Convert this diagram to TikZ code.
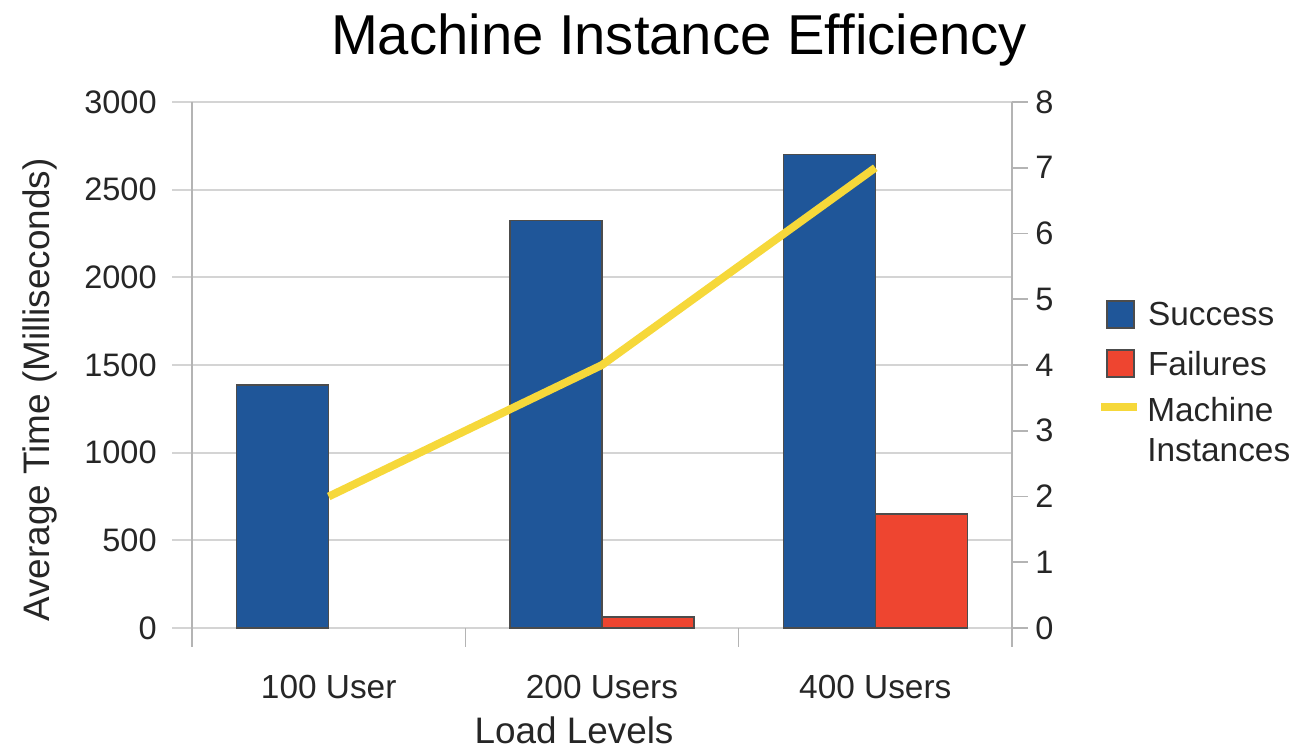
\documentclass[tikz,border=0pt]{standalone}
\usepackage{fontspec}
\setmainfont{Liberation Sans}
\usetikzlibrary{positioning}

\definecolor{succblue}{HTML}{1F5699}
\definecolor{failred}{HTML}{EE4530}
\definecolor{machyellow}{HTML}{F6D83A}
\definecolor{gridgray}{HTML}{D4D4D4}
\definecolor{axisgray}{HTML}{B4B4B4}
\definecolor{txtgray}{HTML}{262626}

\begin{document}
\begin{tikzpicture}[x=0.02cm,y=0.02cm,
  gridline/.style={gridgray,line width=1.1pt},
  axisline/.style={axisgray,line width=0.9pt},
  bar/.style={draw=black!70,line width=0.8pt},
  machline/.style={machyellow,line width=4.5pt,line join=round},
  ticklbl/.style={font=\fontsize{18.5}{20}\selectfont,text=txtgray,inner sep=0pt},
  catlbl/.style={font=\fontsize{19}{21}\selectfont,text=txtgray,inner sep=0pt,anchor=base},
  axislbl/.style={font=\fontsize{21}{23}\selectfont,text=txtgray,inner sep=0pt},
  legendbox/.style={bar,minimum size=0.54cm,inner sep=0pt},
  legendtxt/.style={font=\fontsize{19}{22.8}\selectfont,text=txtgray,inner sep=0pt,align=left}]
\useasboundingbox (0,0) rectangle (1296,752);

% title
\node[font=\fontsize{32}{34}\selectfont,text=black,inner sep=0pt,anchor=base] (title) at (679,697) {Machine Instance Efficiency};

% grid and left scale
\foreach \v in {0,500,...,3000}{
  \draw[gridline] (172,{124+\v*0.17533}) -- (1012,{124+\v*0.17533});
  \node[ticklbl,anchor=east] (l\v) at (157,{124+\v*0.17533}) {\v};
}
% right scale
\foreach \v in {0,...,8}{
  \draw[axisline] (1012,{124+\v*65.75}) -- (1028,{124+\v*65.75});
  \node[ticklbl,anchor=west] (r\v) at (1035,{124+\v*65.75}) {\v};
}

% axes
\draw[axisline] (192,650) -- (192,105);
\draw[axisline] (1012,650) -- (1012,105);
\foreach \cx in {465.3,738.7}
  \draw[axisline] (\cx,124) -- (\cx,105);

% bars
\foreach \cx/\s in {328.7/1385,602/2325,875.3/2700}
  \draw[bar,fill=succblue] (\cx-92,124) rectangle (\cx,{124+\s*0.17533});
\foreach \cx/\f in {602/63,875.3/650}
  \draw[bar,fill=failred] (\cx,124) rectangle (\cx+92,{124+\f*0.17533});

% machine instances, right scale
\coordinate (m1) at (328.7,{124+2*65.75});
\coordinate (m2) at (602,{124+4*65.75});
\coordinate (m3) at (875.3,{124+7*65.75});
\draw[machline] (m1) -- (m2) -- (m3);

% category labels
\node[catlbl] (c1) at (328.7,54) {100 User};
\node[catlbl] (c2) at (602,54) {200 Users};
\node[catlbl] (c3) at (875.3,54) {400 Users};
\node[axislbl,anchor=base] (xlbl) at (574,9) {Load Levels};
\node[axislbl,rotate=90] (ylbl) at (40,362) {Average Time (Milliseconds)};

% legend
\node[legendbox,fill=succblue] (lsucc) at (1120.5,437.5) {};
\node[legendbox,fill=failred,below=0.41cm of lsucc] (lfail) {};
\coordinate (lm1) at (1101,345);
\coordinate (lm2) at (1137,345);
\draw[machyellow,line width=4pt] (lm1) -- (lm2);
\node[legendtxt,right=0.26cm of lsucc] (tsucc) {Success};
\node[legendtxt,right=0.26cm of lfail] (tfail) {Failures};
\node[legendtxt,anchor=west] (tmach) at (1147,322) {Machine\\Instances};
\end{tikzpicture}
\end{document}
